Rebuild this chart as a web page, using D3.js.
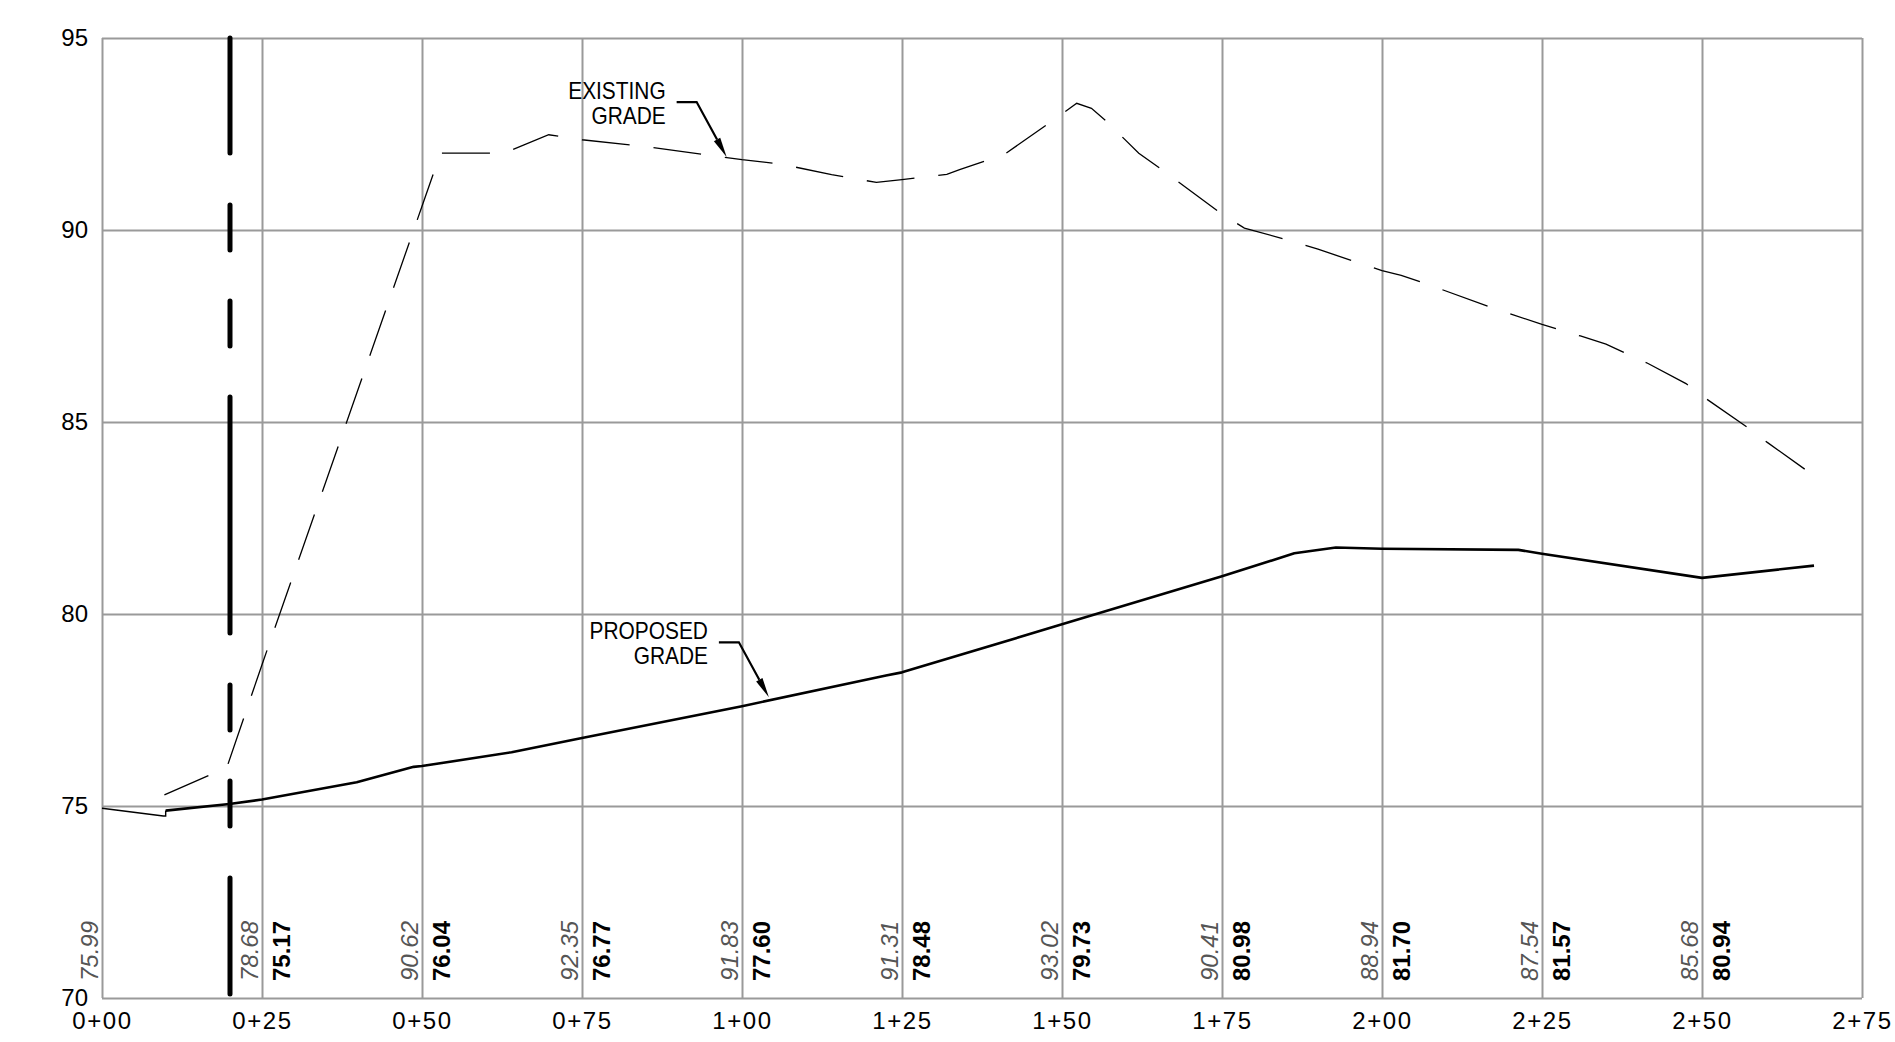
<!DOCTYPE html>
<html>
<head>
<meta charset="utf-8">
<title>Profile – Existing and Proposed Grade</title>
<script src="https://cdn.jsdelivr.net/npm/d3@7"></script>
<style>
  html, body { margin: 0; padding: 0; background: #fff; }
  svg { display: block; }
</style>
</head>
<body>
<svg id="chart" width="1895" height="1042"></svg>
<script>
// Station axis (feet along the alignment) and its labels
const stationTicks = [0, 25, 50, 75, 100, 125, 150, 175, 200, 225, 250, 275];
const stationTickLabels = ["0+00", "0+25", "0+50", "0+75", "1+00", "1+25", "1+50", "1+75", "2+00", "2+25", "2+50", "2+75"];

// Elevation axis
const elevationTicks = [70, 75, 80, 85, 90, 95];
const elevationTickLabels = ["70", "75", "80", "85", "90", "95"];

// Elevations printed at each labelled station
const labelStations = [0, 25, 50, 75, 100, 125, 150, 175, 200, 225, 250];
const existingAtStations = [75.99, 78.68, 90.62, 92.35, 91.83, 91.31, 93.02, 90.41, 88.94, 87.54, 85.68];
const proposedAtStations = [null, 75.17, 76.04, 76.77, 77.60, 78.48, 79.73, 80.98, 81.70, 81.57, 80.94];

// Existing ground breaks between the labelled stations [station, elevation]
const existingBreaks = [
  [9.75, 75.29], [19.5, 76.00], [52.9, 92.00], [62.8, 92.00], [69.8, 92.48],
  [86, 92.15], [106, 91.72], [114, 91.44], [121, 91.24], [128, 91.37],
  [132, 91.45], [134, 91.57], [138, 91.80], [141, 91.97], [152.3, 93.30],
  [154.6, 93.17], [157, 92.82], [162, 92.00], [165.3, 91.61], [178.5, 90.05],
  [184.6, 89.77], [190, 89.50], [203, 88.82], [206.2, 88.64], [216.8, 88.00],
  [231, 87.24], [235, 87.03], [238.1, 86.79], [241.5, 86.53], [247.5, 86.00],
  [257.2, 84.85], [260.2, 84.47], [267.5, 83.60]
];

// Proposed grade breaks between the labelled stations
const proposedBreaks = [
  [9.95, 74.88], [19.9, 75.05], [39.8, 75.62], [48.7, 76.02], [64, 76.40],
  [122.5, 78.40], [186.3, 81.58], [192.8, 81.73], [221.3, 81.67], [267.5, 81.26]
];

// Short tie-in at the start of the proposed grade
const proposedTieIn = [[0, 74.94], [9.58, 74.74], [9.95, 74.74], [9.95, 74.88]];

// Station of the heavy dash-dot reference line
const referenceStation = 20;

// Leader callouts: text lines and the point the arrow touches
const calloutText = [["EXISTING", "GRADE"], ["PROPOSED", "GRADE"]];
const calloutStation = [97.6, 104.2];
const calloutElevation = [91.90, 77.83];

// ---------------------------------------------------------------------------

const svg = d3.select("#chart");
const plotLeft = 102, plotRight = 1862, plotTop = 38, plotBottom = 998;

const x = d3.scaleLinear().domain([0, 275]).range([plotLeft, plotRight]);
const y = d3.scaleLinear().domain([70, 95]).range([plotBottom, plotTop]);

const gridColor = "#9a9a9a";

// Merge labelled station values with the breaks into one ordered profile
function profile(breaks, stations, values, fromStation) {
  const pts = breaks.slice();
  stations.forEach((s, i) => {
    if (values[i] != null && s >= fromStation) pts.push([s, values[i]]);
  });
  return pts.sort((a, b) => a[0] - b[0]);
}
const existingProfile = profile(existingBreaks, labelStations, existingAtStations, existingBreaks[0][0]);
const proposedProfile = profile(proposedBreaks, labelStations, proposedAtStations, proposedBreaks[0][0]);

// Grid
const gridV = svg.append("g")
  .attr("transform", `translate(0,${plotBottom})`)
  .call(d3.axisBottom(x).tickValues(stationTicks).tickSize(-(plotBottom - plotTop)).tickFormat(""));
const gridH = svg.append("g")
  .attr("transform", `translate(${plotLeft},0)`)
  .call(d3.axisLeft(y).tickValues(elevationTicks).tickSize(-(plotRight - plotLeft)).tickFormat(""));
[gridV, gridH].forEach(g => {
  g.select(".domain").remove();
  g.selectAll(".tick line").attr("stroke", gridColor).attr("stroke-width", 2);
});

// Axis labels
const xAxis = svg.append("g")
  .attr("transform", `translate(0,${plotBottom})`)
  .call(d3.axisBottom(x).tickValues(stationTicks).tickSize(0).tickPadding(14)
    .tickFormat((d, i) => stationTickLabels[i]));
xAxis.select(".domain").remove();
xAxis.selectAll("text")
  .attr("font-family", "'Liberation Sans', Arial, sans-serif")
  .attr("font-size", 24)
  .attr("letter-spacing", 1.6)
  .attr("fill", "#000");

const yAxis = svg.append("g")
  .attr("transform", `translate(${plotLeft},0)`)
  .call(d3.axisLeft(y).tickValues(elevationTicks).tickSize(0).tickPadding(14)
    .tickFormat((d, i) => elevationTickLabels[i]));
yAxis.select(".domain").remove();
yAxis.selectAll("text")
  .attr("font-family", "'Liberation Sans', Arial, sans-serif")
  .attr("font-size", 24)
  .attr("fill", "#000");

// Heavy dash-dot reference line
svg.append("line")
  .attr("x1", x(referenceStation)).attr("x2", x(referenceStation))
  .attr("y1", y(95)).attr("y2", y(70))
  .attr("stroke", "#000")
  .attr("stroke-width", 5)
  .attr("stroke-linecap", "round")
  .attr("stroke-dasharray", "115,52,45,51,45,51,236,52,45,51,45,52,116");

const line = d3.line().x(d => x(d[0])).y(d => y(d[1]));

// Existing grade (thin dashed)
svg.append("path")
  .attr("d", line(existingProfile))
  .attr("fill", "none")
  .attr("stroke", "#000")
  .attr("stroke-width", 1.3)
  .attr("stroke-dasharray", "48,24");

// Proposed grade
svg.append("path")
  .attr("d", line(proposedTieIn))
  .attr("fill", "none")
  .attr("stroke", "#000")
  .attr("stroke-width", 1.4);
svg.append("path")
  .attr("d", line(proposedProfile))
  .attr("fill", "none")
  .attr("stroke", "#000")
  .attr("stroke-width", 2.6)
  .attr("stroke-linejoin", "round");

// Station elevation labels (existing italic to the left, proposed bold to the right)
const labelBase = 981;
const stationLabels = svg.append("g");
labelStations.forEach((s, i) => {
  stationLabels.append("text")
    .attr("transform", `translate(${x(s) - 4},${labelBase}) rotate(-90)`)
    .attr("font-family", "'Liberation Sans', Arial, sans-serif")
    .attr("font-style", "italic")
    .attr("font-size", 24)
    .attr("fill", "#555")
    .text(existingAtStations[i].toFixed(2));
  if (proposedAtStations[i] != null) {
    stationLabels.append("text")
      .attr("transform", `translate(${x(s) + 28},${labelBase}) rotate(-90)`)
      .attr("font-family", "'Liberation Sans', Arial, sans-serif")
      .attr("font-weight", "bold")
      .attr("font-size", 24)
      .attr("fill", "#000")
      .text(proposedAtStations[i].toFixed(2));
  }
});

// Leader callouts
calloutText.forEach((lines, i) => {
  const tx = x(calloutStation[i]), ty = y(calloutElevation[i]);
  const ex = tx - 30, ey = ty - 55;   // elbow
  const sx = tx - 50;                  // shoulder
  const g = svg.append("g");
  // leader, stopping at the arrowhead base
  const dx = tx - ex, dy = ty - ey, len = Math.hypot(dx, dy);
  const ux = dx / len, uy = dy / len;
  const headLen = 20, headHalf = 3.6;
  const bx = tx - ux * headLen, by = ty - uy * headLen;
  g.append("path")
    .attr("d", `M${sx},${ey}L${ex},${ey}L${bx},${by}`)
    .attr("fill", "none")
    .attr("stroke", "#000")
    .attr("stroke-width", 2.2);
  g.append("path")
    .attr("d", `M${tx},${ty}L${bx - uy * headHalf},${by + ux * headHalf}L${bx + uy * headHalf},${by - ux * headHalf}Z`)
    .attr("fill", "#000");
  lines.forEach((t, k) => {
    g.append("g")
      .attr("transform", `translate(${tx - 61},${ey - 3.5 + k * 25}) scale(0.87,1)`)
      .append("text")
      .attr("text-anchor", "end")
      .attr("font-family", "'Liberation Sans', Arial, sans-serif")
      .attr("font-size", 24)
      .attr("fill", "#000")
      .text(t);
  });
});
</script>
</body>
</html>
